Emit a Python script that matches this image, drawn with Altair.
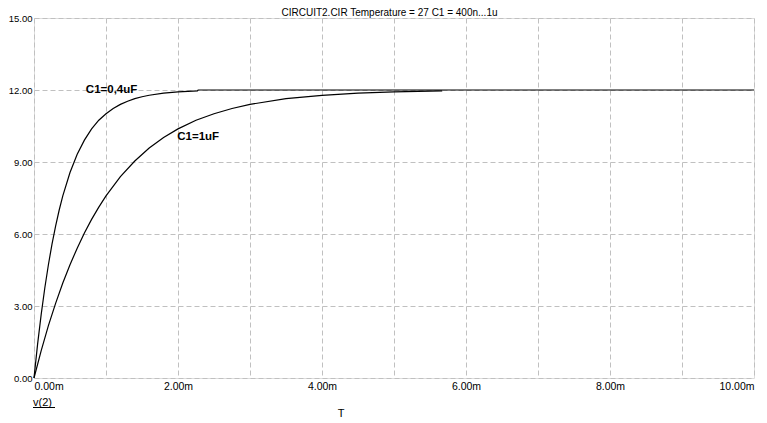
import altair as alt
import pandas as pd

# C1 = 0.4 uF curve (time in ms, voltage in V)
t_c04 = [0, 0.05, 0.1, 0.15, 0.2, 0.25, 0.3, 0.35, 0.4, 0.5, 0.6, 0.7, 0.8, 0.9, 1.0,
         1.1, 1.2, 1.3, 1.4, 1.5, 1.6, 1.8, 2.0, 2.27, 2.28, 10.0]
v_c04 = [0, 1.41, 2.65, 3.75, 4.72, 5.58, 6.33, 7.00, 7.59, 8.56, 9.32, 9.91, 10.38, 10.74, 11.01,
         11.23, 11.40, 11.53, 11.64, 11.72, 11.78, 11.87, 11.92, 11.96, 12.0, 12.0]

# C1 = 1 uF curve
t_c1 = [0, 0.1, 0.2, 0.3, 0.4, 0.5, 0.6, 0.7, 0.8, 0.9, 1.0, 1.2, 1.4, 1.6, 1.8, 2.0,
        2.25, 2.5, 2.75, 3.0, 3.5, 4.0, 4.5, 5.0, 5.67]
v_c1 = [0, 1.14, 2.18, 3.11, 3.96, 4.72, 5.41, 6.04, 6.61, 7.12, 7.59, 8.39, 9.04, 9.58, 10.02, 10.38,
        10.74, 11.01, 11.23, 11.40, 11.64, 11.78, 11.87, 11.92, 11.96]

label_text = ["C1=0,4uF", "C1=1uF"]
label_t = [0.72, 1.99]
label_v = [12.0, 10.04]

x_ticks = [0, 1, 2, 3, 4, 5, 6, 7, 8, 9, 10]
y_ticks = [0, 1.5, 3, 4.5, 6, 7.5, 9, 10.5, 12, 13.5, 15]

title_text = ["CIRCUIT2.CIR Temperature = 27 C1 = 400n...1u"]

df = pd.concat([
    pd.DataFrame({"t": t_c04, "v": v_c04, "series": "C1=0.4uF"}),
    pd.DataFrame({"t": t_c1, "v": v_c1, "series": "C1=1uF"}),
])
labels = pd.DataFrame({"text": label_text, "t": label_t, "v": label_v})
title_df = pd.DataFrame({"text": title_text})

FONT = "Liberation Sans"
GRID = "#c0c0c0"

x_enc = alt.X("t:Q", scale=alt.Scale(domain=[0, 10], nice=False),
              axis=alt.Axis(values=x_ticks, grid=True, gridColor=GRID, gridDash=[5, 3],
                            domain=False, ticks=False, labelFlush=True,
                            labelExpr="datum.value % 2 == 0 ? format(datum.value, '.2f') + 'm' : ''",
                            labelFont=FONT, labelFontSize=10.5, labelColor="black", labelPadding=3,
                            title="T", titleFont=FONT, titleFontSize=11, titleFontWeight="normal",
                            titleColor="black", titleX=306.5, titleY=35, titleAlign="center",
                            titleBaseline="middle"))
y_enc = alt.Y("v:Q", scale=alt.Scale(domain=[0, 15], nice=False),
              axis=alt.Axis(values=y_ticks, grid=True, gridColor=GRID, gridDash=[5, 3],
                            domain=False, ticks=False,
                            labelExpr="datum.value % 3 == 0 ? format(datum.value, '.2f') : ''",
                            labelFont=FONT, labelFontSize=9.5, labelColor="black", labelPadding=2,
                            title="v(2)", titleAngle=0, titleFont=FONT, titleFontSize=11,
                            titleFontWeight="normal", titleColor="black", titleX=-1.5, titleY=384,
                            titleAlign="left", titleBaseline="middle"))

lines = alt.Chart(df).mark_line(color="black", strokeWidth=1.2).encode(
    x=x_enc, y=y_enc, detail="series:N")

texts = alt.Chart(labels).mark_text(font=FONT, fontSize=11.5, fontWeight="bold",
                                    align="left", baseline="middle", color="black").encode(
    x="t:Q", y="v:Q", text="text:N")

underline = alt.Chart(labels).mark_rule(color="black", strokeWidth=1).encode(
    x=alt.value(-1), x2=alt.value(21), y=alt.value(389.5))

title_mark = alt.Chart(title_df).mark_text(font=FONT, fontSize=10, align="center",
                                           baseline="alphabetic", color="black").encode(
    x=alt.value(355.5), y=alt.value(-2), text="text:N")

chart = alt.layer(lines, texts, underline, title_mark).properties(
    width=720, height=360,
    autosize=alt.AutoSizeParams(type="none"),
    padding={"left": 26, "top": 10, "right": 5, "bottom": 50},
).configure_view(stroke="#a0a0a0", strokeWidth=1).configure(background="white")

chart.save("out.html", embed_options={"renderer": "svg", "actions": False})
